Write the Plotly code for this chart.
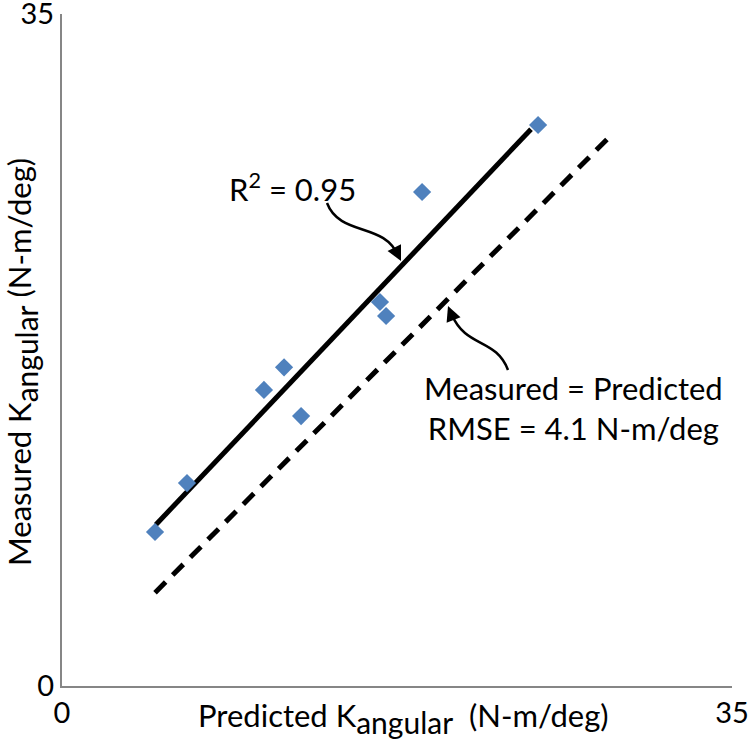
import plotly.graph_objects as go

# Data
predicted = [4.86, 6.53, 10.55, 11.6, 12.49, 16.61, 16.93, 18.81, 24.87]
measured = [8.02, 10.57, 15.42, 16.6, 14.06, 20.0, 19.27, 25.73, 29.22]

fit_x = [4.9, 24.5]
fit_y = [8.4, 29.0]

ident_x = [4.86, 28.8]
ident_y = [4.86, 28.8]

axis_range = [0, 35]
tick_vals = [0, 35]

FONT = "Lato"
FS = 31
SUB = "<sub><span style='font-size:30px'>angular</span></sub>"

fig = go.Figure()
fig.add_trace(go.Scatter(x=ident_x, y=ident_y, mode="lines",
                         line=dict(color="black", width=5, dash="15px,10px"),
                         showlegend=False, hoverinfo="skip"))
fig.add_trace(go.Scatter(x=fit_x, y=fit_y, mode="lines",
                         line=dict(color="black", width=5),
                         showlegend=False, hoverinfo="skip"))
fig.add_trace(go.Scatter(x=predicted, y=measured, mode="markers",
                         marker=dict(symbol="diamond", size=14, color="#4F81BD"),
                         showlegend=False))

# pixel->data helpers for decoration placement (plot area 62..732 x, 14..686 y on screen)
def dx(px):
    return (px - 62) / (670 / 35)

def dy(py):
    return (686 - py) / (672 / 35)

# curved arrow 1 (R^2 label -> fit line)
p = [(327, 203), (340, 237), (385, 222), (398, 256)]
fig.add_shape(type="path",
              path="M {},{} C {},{} {},{} {},{}".format(*[v for pt in p for v in (dx(pt[0]), dy(pt[1]))]),
              line=dict(color="black", width=2.5), xref="x", yref="y")
fig.add_annotation(x=dx(401), y=dy(261), ax=-5, ay=-10, xref="x", yref="y",
                   text="", showarrow=True, arrowhead=2, arrowsize=1.2, arrowwidth=2.5,
                   arrowcolor="black")

# curved arrow 2 (Measured = Predicted label -> identity line)
q = [(508, 370), (496, 338), (466, 348), (452, 315)]
fig.add_shape(type="path",
              path="M {},{} C {},{} {},{} {},{}".format(*[v for pt in q for v in (dx(pt[0]), dy(pt[1]))]),
              line=dict(color="black", width=2.5), xref="x", yref="y")
fig.add_annotation(x=dx(448), y=dy(306), ax=4, ay=10, xref="x", yref="y",
                   text="", showarrow=True, arrowhead=2, arrowsize=1.2, arrowwidth=2.5,
                   arrowcolor="black")

# text labels
fig.add_annotation(x=dx(292), y=dy(187), text="R<sup>2</sup> = 0.95", showarrow=False,
                   font=dict(family=FONT, size=FS, color="black"), xref="x", yref="y")
fig.add_annotation(x=dx(573), y=dy(408), text="Measured = Predicted<br>RMSE = 4.1 N-m/deg",
                   showarrow=False, align="center",
                   font=dict(family=FONT, size=FS, color="black"), xref="x", yref="y")

# axis titles
fig.add_annotation(x=dx(403), y=0, yref="paper", xref="x", yshift=-32,
                   xanchor="center", yanchor="middle",
                   text="Predicted K" + SUB + "\u00a0\u00a0(N-m/deg)", showarrow=False,
                   font=dict(family=FONT, size=FS, color="black"))
fig.add_annotation(x=0, xref="paper", y=dy(362), yref="y", xshift=-40, textangle=-90,
                   xanchor="center", yanchor="middle",
                   text="Measured K" + SUB + " (N-m/deg)", showarrow=False,
                   font=dict(family=FONT, size=FS, color="black"))

axis_common = dict(range=axis_range, tickvals=tick_vals, showgrid=False, zeroline=False,
                   showline=True, linecolor="#868686", linewidth=2,
                   ticks="inside", ticklen=8, tickwidth=2, tickcolor="#868686",
                   automargin=False, ticklabeloverflow="allow",
                   tickfont=dict(family=FONT, size=29, color="black"))

fig.update_layout(
    width=750, height=743,
    margin=dict(l=62, r=18, t=14, b=57),
    plot_bgcolor="white", paper_bgcolor="white",
    xaxis=dict(**axis_common),
    yaxis=dict(**axis_common),
    showlegend=False,
)

# remove the default page body margin so the figure fills the window exactly
fig.write_html("out.html",
               config={"displayModeBar": False},
               post_script="document.body.style.margin='0';document.body.style.overflow='hidden';")
